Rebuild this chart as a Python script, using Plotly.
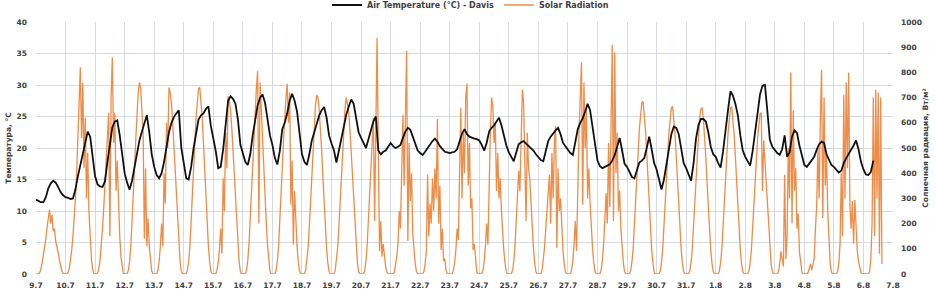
import plotly.graph_objects as go
import pandas as pd

# ---- tick labels (day boundaries) ----
date_labels = ["9.7", "10.7", "11.7", "12.7", "13.7", "14.7", "15.7", "16.7", "17.7", "18.7",
               "19.7", "20.7", "21.7", "22.7", "23.7", "24.7", "25.7", "26.7", "27.7", "28.7",
               "29.7", "30.7", "31.7", "1.8", "2.8", "3.8", "4.8", "5.8", "6.8", "7.8"]

# ---- Air temperature (°C), every 2 hours (00,02,...,22) per day ----
t_0907 = [11.8, 11.6, 11.4, 11.4, 12.2, 13.6, 14.4, 14.8, 14.5, 13.8, 13.0, 12.5]
t_1007 = [12.2, 12.1, 11.9, 12.0, 13.4, 15.5, 17.4, 19.2, 21.0, 22.6, 21.8, 18.2]
t_1107 = [15.5, 14.2, 13.9, 13.8, 14.7, 17.8, 20.5, 23.3, 24.2, 24.4, 22.0, 18.5]
t_1207 = [16.0, 14.5, 13.4, 14.8, 17.0, 19.5, 21.2, 22.6, 24.0, 25.2, 22.5, 19.0]
t_1307 = [17.0, 15.7, 15.2, 16.0, 17.8, 20.0, 22.5, 24.0, 24.9, 25.5, 26.0, 20.0]
t_1407 = [17.5, 15.2, 15.0, 17.0, 20.0, 22.5, 24.5, 25.2, 25.5, 26.2, 26.6, 23.5]
t_1507 = [21.5, 19.5, 16.8, 17.0, 19.8, 23.6, 27.5, 28.2, 27.8, 27.0, 24.5, 20.5]
t_1607 = [19.0, 17.8, 17.3, 19.0, 22.0, 24.5, 26.8, 28.0, 28.5, 27.2, 24.8, 22.0]
t_1707 = [20.5, 18.4, 17.4, 19.5, 23.0, 24.0, 25.5, 27.5, 28.6, 27.5, 25.8, 22.5]
t_1807 = [19.0, 17.8, 17.3, 19.0, 21.2, 22.5, 23.8, 25.2, 26.0, 26.5, 24.8, 22.0]
t_1907 = [20.7, 19.6, 17.7, 19.5, 21.8, 23.5, 25.3, 26.6, 27.7, 27.0, 24.8, 22.5]
t_2007 = [21.6, 20.8, 20.0, 21.4, 23.0, 24.2, 25.0, 19.6, 19.0, 19.4, 19.6, 20.2]
t_2107 = [20.8, 20.3, 20.0, 20.2, 20.5, 21.6, 22.6, 23.2, 22.9, 21.8, 20.6, 19.6]
t_2207 = [19.2, 18.9, 19.4, 20.0, 20.5, 21.1, 21.5, 21.0, 20.3, 19.8, 19.4, 19.3]
t_2307 = [19.2, 19.3, 19.4, 19.8, 21.0, 22.3, 23.0, 22.2, 21.8, 21.6, 21.5, 21.4]
t_2407 = [21.2, 20.5, 19.6, 20.8, 22.6, 23.2, 23.6, 24.2, 24.8, 23.6, 22.0, 20.4]
t_2507 = [19.3, 18.6, 17.9, 19.3, 20.6, 20.9, 21.1, 20.7, 20.3, 20.0, 19.6, 19.0]
t_2607 = [18.6, 18.1, 17.9, 19.5, 21.1, 21.8, 22.4, 22.8, 23.2, 22.2, 20.8, 20.2]
t_2707 = [19.6, 19.2, 18.9, 20.8, 23.0, 24.0, 24.7, 25.8, 27.0, 26.0, 23.5, 20.5]
t_2807 = [18.0, 17.1, 16.8, 17.0, 17.2, 17.4, 18.0, 18.9, 20.2, 21.6, 19.6, 17.5]
t_2907 = [17.0, 16.3, 15.4, 15.2, 16.5, 17.7, 18.0, 18.4, 20.0, 21.8, 19.8, 17.6]
t_3007 = [16.6, 15.0, 13.4, 15.0, 17.5, 20.0, 22.2, 23.4, 23.2, 22.2, 20.2, 17.6]
t_3107 = [16.8, 15.9, 14.8, 17.5, 21.5, 23.6, 24.6, 24.6, 24.2, 22.5, 20.2, 19.0]
t_0108 = [18.6, 17.6, 16.9, 19.5, 23.2, 26.0, 29.0, 28.3, 27.0, 25.2, 22.0, 19.6]
t_0208 = [18.6, 17.8, 17.2, 19.5, 22.6, 25.8, 28.5, 29.9, 30.0, 25.8, 21.3, 20.2]
t_0308 = [19.6, 19.2, 18.9, 19.8, 22.0, 18.6, 19.3, 21.8, 22.8, 22.4, 20.4, 18.6]
t_0408 = [17.3, 17.0, 17.6, 18.2, 18.6, 19.7, 20.6, 21.0, 20.8, 19.0, 18.0, 17.3]
t_0508 = [17.0, 16.6, 16.1, 16.4, 17.6, 18.4, 19.0, 19.6, 20.4, 21.2, 19.8, 17.8]
t_0608 = [16.6, 15.8, 15.7, 16.2, 18.0]

# ---- Solar radiation (W/m2), hourly (00..23) per day ----
sol_0907 = [0, 0, 0, 5, 20, 45, 75, 105, 140, 185, 230, 255, 200, 235, 170, 180, 130, 110, 85, 55, 30, 12, 3, 0]
sol_1007 = [0, 0, 5, 20, 50, 95, 150, 210, 300, 400, 560, 700, 820, 540, 760, 420, 620, 300, 480, 250, 140, 60, 20, 0]
sol_1107 = [0, 0, 5, 20, 55, 110, 180, 260, 350, 470, 560, 640, 150, 700, 860, 520, 640, 330, 450, 260, 150, 70, 20, 0]
sol_1207 = [0, 0, 0, 15, 50, 110, 200, 300, 420, 530, 640, 720, 760, 740, 650, 560, 140, 420, 110, 220, 110, 50, 12, 0]
sol_1307 = [0, 0, 0, 15, 50, 110, 200, 110, 400, 280, 600, 500, 740, 720, 680, 600, 510, 400, 300, 200, 110, 50, 12, 0]
sol_1407 = [0, 0, 0, 15, 50, 110, 200, 300, 410, 520, 620, 690, 735, 740, 690, 620, 520, 410, 300, 200, 110, 50, 12, 0]
sol_1507 = [0, 0, 0, 15, 45, 100, 180, 80, 380, 250, 560, 420, 705, 690, 650, 580, 490, 390, 285, 190, 105, 45, 10, 0]
sol_1607 = [0, 0, 0, 15, 55, 120, 220, 330, 450, 570, 680, 740, 805, 200, 760, 640, 540, 420, 310, 205, 115, 50, 12, 0]
sol_1707 = [0, 0, 0, 15, 50, 110, 200, 310, 420, 530, 640, 700, 755, 600, 720, 275, 450, 116, 330, 200, 110, 50, 12, 0]
sol_1807 = [0, 0, 0, 15, 50, 105, 190, 290, 395, 500, 600, 670, 710, 700, 650, 580, 490, 385, 280, 185, 100, 45, 10, 0]
sol_1907 = [0, 0, 0, 15, 50, 105, 190, 285, 390, 495, 590, 660, 700, 660, 640, 570, 480, 380, 275, 180, 100, 45, 10, 0]
sol_2007 = [0, 0, 0, 15, 55, 120, 210, 310, 420, 530, 620, 210, 700, 937, 500, 91, 210, 69, 120, 60, 25, 8, 0, 0]
sol_2107 = [0, 0, 0, 5, 30, 70, 120, 250, 180, 450, 632, 350, 600, 885, 131, 520, 290, 400, 160, 91, 40, 10, 0, 0]
sol_2207 = [0, 0, 0, 10, 40, 90, 394, 150, 280, 200, 380, 250, 420, 300, 615, 200, 350, 95, 180, 52, 60, 15, 0, 0]
sol_2307 = [0, 0, 0, 15, 45, 95, 180, 135, 380, 660, 300, 560, 400, 700, 755, 350, 520, 260, 300, 95, 120, 40, 8, 0]
sol_2407 = [0, 0, 0, 15, 50, 110, 200, 116, 420, 560, 700, 667, 520, 600, 329, 480, 300, 380, 250, 150, 90, 40, 8, 0]
sol_2507 = [0, 0, 0, 15, 50, 110, 200, 300, 410, 329, 600, 731, 680, 500, 210, 560, 420, 380, 280, 180, 100, 45, 10, 0]
sol_2607 = [0, 0, 0, 15, 50, 105, 180, 260, 340, 394, 200, 480, 300, 520, 586, 103, 420, 250, 300, 150, 90, 40, 8, 0]
sol_2707 = [0, 0, 0, 15, 55, 120, 210, 91, 420, 560, 700, 840, 275, 760, 500, 650, 300, 420, 280, 180, 100, 45, 10, 0]
sol_2807 = [0, 0, 0, 15, 55, 120, 210, 320, 200, 520, 265, 700, 910, 210, 880, 400, 560, 250, 330, 180, 100, 45, 10, 0]
sol_2907 = [0, 0, 0, 15, 48, 103, 185, 280, 380, 480, 575, 640, 680, 685, 640, 570, 480, 375, 270, 180, 98, 45, 10, 0]
sol_3007 = [0, 0, 0, 14, 46, 100, 180, 272, 370, 466, 558, 625, 660, 665, 620, 552, 465, 365, 262, 175, 95, 43, 10, 0]
sol_3107 = [0, 0, 0, 14, 46, 99, 178, 270, 367, 462, 553, 620, 655, 660, 616, 548, 462, 362, 260, 173, 94, 42, 10, 0]
sol_0108 = [0, 0, 0, 14, 45, 99, 179, 271, 369, 465, 557, 624, 659, 664, 619, 551, 464, 364, 261, 174, 94, 42, 10, 0]
sol_0208 = [0, 0, 0, 13, 44, 96, 173, 262, 356, 448, 537, 600, 636, 640, 329, 530, 447, 350, 252, 168, 91, 41, 9, 0]
sol_0308 = [0, 0, 0, 10, 40, 90, 60, 30, 394, 60, 150, 500, 300, 800, 200, 650, 330, 420, 180, 240, 90, 40, 8, 0]
sol_0408 = [0, 0, 0, 5, 20, 40, 15, 35, 60, 180, 267, 500, 300, 620, 810, 222, 700, 350, 480, 250, 120, 40, 8, 0]
sol_0508 = [0, 0, 0, 10, 40, 120, 400, 150, 711, 300, 760, 420, 800, 275, 180, 290, 120, 294, 150, 90, 50, 20, 5, 0]
sol_0608 = [0, 0, 0, 0, 0, 10, 60, 200, 700, 150, 731, 300, 720, 80, 700, 40]

temp_days = [t_0907, t_1007, t_1107, t_1207, t_1307, t_1407, t_1507, t_1607, t_1707, t_1807,
             t_1907, t_2007, t_2107, t_2207, t_2307, t_2407, t_2507, t_2607, t_2707, t_2807,
             t_2907, t_3007, t_3107, t_0108, t_0208, t_0308, t_0408, t_0508, t_0608]
sol_days = [sol_0907, sol_1007, sol_1107, sol_1207, sol_1307, sol_1407, sol_1507, sol_1607, sol_1707, sol_1807,
            sol_1907, sol_2007, sol_2107, sol_2207, sol_2307, sol_2407, sol_2507, sol_2607, sol_2707, sol_2807,
            sol_2907, sol_3007, sol_3107, sol_0108, sol_0208, sol_0308, sol_0408, sol_0508, sol_0608]

start = pd.Timestamp("2021-07-09")

tx, ty = [], []
for d, vals in enumerate(temp_days):
    for i, v in enumerate(vals):
        tx.append(start + pd.Timedelta(days=d, hours=2 * i))
        ty.append(v)

sx, sy = [], []
for d, vals in enumerate(sol_days):
    for h, v in enumerate(vals):
        sx.append(start + pd.Timedelta(days=d, hours=h))
        sy.append(v)

tickvals = [start + pd.Timedelta(days=i) for i in range(len(date_labels))]

FONT = "DejaVu Sans"
tick_font = dict(family=FONT, size=7.5, color="#404040", weight="bold")
title_font = dict(family=FONT, size=7.5, color="#404040", weight="bold")
grid_col = "#d5d9e2"

fig = go.Figure()
fig.add_trace(go.Scatter(
    x=sx, y=sy, mode="lines", name="Solar Radiation",
    line=dict(color="#EF8C48", width=1.3), yaxis="y", legendrank=2,
))
fig.add_trace(go.Scatter(
    x=tx, y=ty, mode="lines", name="Air Temperature (°C) - Davis",
    line=dict(color="#111111", width=1.8), yaxis="y2", legendrank=1,
))

fig.update_layout(
    width=935, height=293,
    margin=dict(l=36, r=42, t=22, b=19, autoexpand=False),
    paper_bgcolor="white", plot_bgcolor="white",
    font=dict(family=FONT, color="#404040"),
    showlegend=True,
    legend=dict(orientation="h", x=0.507, xanchor="center",
                y=1.125, yanchor="top",
                font=dict(family=FONT, size=8, color="#404040", weight="bold"),
                bgcolor="rgba(0,0,0,0)", itemwidth=30, tracegroupgap=0),
    xaxis=dict(
        type="date",
        range=[tickvals[0], tickvals[-1]],
        tickmode="array", tickvals=tickvals, ticktext=date_labels,
        showgrid=True, gridcolor=grid_col, gridwidth=1,
        zeroline=False, showline=False, ticks="",
        tickfont=tick_font, automargin=False, ticklabelstandoff=5,
    ),
    yaxis=dict(
        side="right", range=[0, 1000], dtick=100,
        showgrid=False, zeroline=False, showline=False, ticks="",
        tickfont=tick_font, automargin=False, ticklabelstandoff=7,
        title=dict(text="Солнечная радиация, Вт/м²", standoff=1, font=title_font),
    ),
    yaxis2=dict(
        overlaying="y", side="left", range=[0, 40], dtick=5,
        showgrid=True, gridcolor=grid_col, gridwidth=1,
        zeroline=False, showline=False, ticks="",
        tickfont=tick_font, automargin=False, ticklabelstandoff=8,
        title=dict(text="Температура, °C", standoff=3, font=title_font),
    ),
)

fig.write_html("out.html",
               config={"displayModeBar": False},
               post_script="document.body.style.margin='0';document.body.style.padding='0';")
